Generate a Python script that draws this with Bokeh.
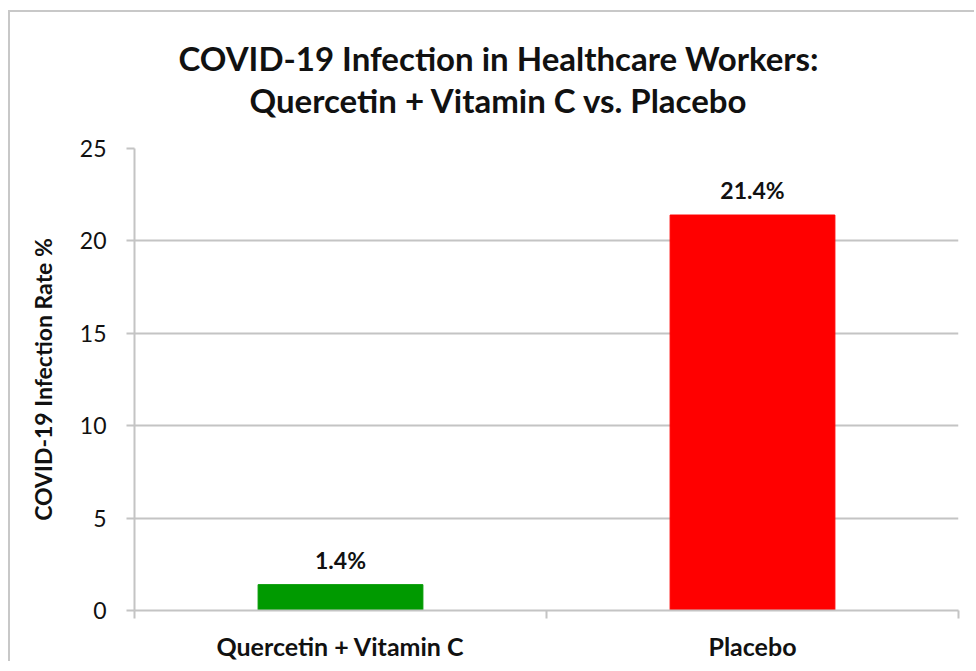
from bokeh.plotting import figure
from bokeh.models import Range1d, FixedTicker, Title, ColumnDataSource, LabelSet
from bokeh.core.properties import value
from bokeh.embed import file_html
from bokeh.resources import INLINE

categories = ["Quercetin + Vitamin C", "Placebo"]
rates = [1.4, 21.4]
rate_labels = ["1.4%", "21.4%"]
bar_colors = ["#009a00", "#ff0000"]
y_ticks = [0, 5, 10, 15, 20, 25]
title_lines = ["COVID-19 Infection in Healthcare Workers:", "Quercetin + Vitamin C vs. Placebo"]
y_title = "COVID-19 Infection Rate %"

FONT = "Lato"
GRID = "#c4c4c4"
TXT = "#111111"

xpos = [i + 0.5 for i in range(len(categories))]
src = ColumnDataSource(dict(x=xpos, top=rates, lab=rate_labels, color=bar_colors))

p = figure(width=966, height=651, output_backend="svg", toolbar_location=None,
           x_range=Range1d(0, len(categories)), y_range=Range1d(0, 25),
           min_border_left=124, min_border_right=18, min_border_top=136, min_border_bottom=52)
p.title = None
p.outline_line_color = None
p.styles = {"margin-left": "8px", "margin-top": "10px",
            "border-left": "2px solid #c8c8c8", "border-top": "2px solid #c8c8c8"}

p.vbar(x="x", top="top", width=0.4, bottom=0, color="color", source=src)

labels = LabelSet(x="x", y="top", text="lab", source=src, text_align="center",
                  text_baseline="bottom", y_offset=11, text_font=value(FONT),
                  text_font_style="bold", text_font_size="23px", text_color=TXT)
p.add_layout(labels)

# axes
p.xaxis.ticker = FixedTicker(ticks=xpos, minor_ticks=list(range(len(categories) + 1)))
p.xaxis.major_label_overrides = {x: c for x, c in zip(xpos, categories)}
p.xaxis.major_tick_line_color = None
p.xaxis.minor_tick_line_color = GRID
p.xaxis.minor_tick_line_width = 2
p.xaxis.minor_tick_in = 0
p.xaxis.minor_tick_out = 8
p.xaxis.axis_line_color = GRID
p.xaxis.axis_line_width = 2
p.xaxis.major_label_text_font = FONT
p.xaxis.major_label_text_font_style = "bold"
p.xaxis.major_label_text_font_size = "25px"
p.xaxis.major_label_text_color = TXT
p.xaxis.major_label_standoff = 12

p.yaxis.ticker = FixedTicker(ticks=y_ticks)
p.yaxis.minor_tick_line_color = None
p.yaxis.major_tick_line_color = GRID
p.yaxis.major_tick_line_width = 2
p.yaxis.major_tick_in = 0
p.yaxis.major_tick_out = 8
p.yaxis.axis_line_color = GRID
p.yaxis.axis_line_width = 2
p.yaxis.major_label_text_font = FONT
p.yaxis.major_label_text_font_size = "23px"
p.yaxis.major_label_text_color = TXT
p.yaxis.major_label_standoff = 20
p.yaxis.axis_label = y_title
p.yaxis.axis_label_text_font = FONT
p.yaxis.axis_label_text_font_style = "bold"
p.yaxis.axis_label_text_font_size = "23px"
p.yaxis.axis_label_text_color = TXT
p.yaxis.axis_label_standoff = 20

p.xgrid.grid_line_color = None
p.ygrid.grid_line_color = GRID
p.ygrid.grid_line_width = 2

# two-line title, closest line added first
offsets = [44, 115]
standoffs = [-58, 58]
for t, off, so in reversed(list(zip(title_lines, offsets, standoffs))):
    p.add_layout(Title(text=t, align="left", offset=off, text_font=FONT,
                       text_font_style="bold", text_font_size="33px", text_color=TXT,
                       standoff=so), "above")

open("out.html", "w").write(file_html(p, INLINE))
